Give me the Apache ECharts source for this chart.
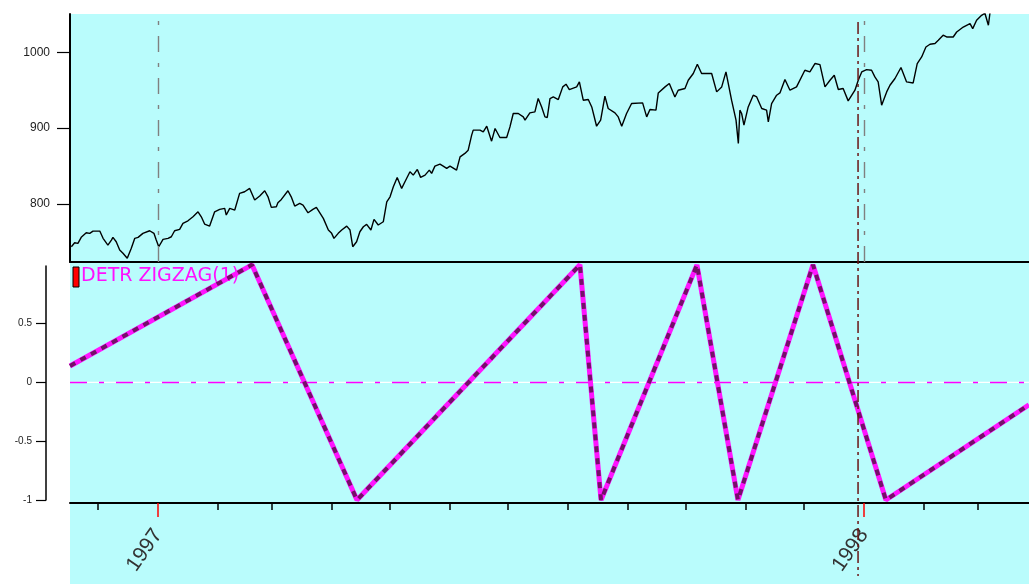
<!DOCTYPE html>
<html><head><meta charset="utf-8">
<script src="https://cdn.jsdelivr.net/npm/echarts@6/dist/echarts.min.js"></script>
<style>html,body{margin:0;padding:0;background:#fff}#c{width:1029px;height:584px}</style>
</head><body><div id="c"></div>
<script>
// x values are days counted from 1997-01-01
const priceDays = [-44.8,-43.1,-41.4,-39.7,-37.1,-35.3,-33.6,-30.1,-28.4,-25.9,-24.1,-23.3,-21.6,-19.8,-18.1,-15.9,-13.8,-12.0,-10.3,-7.8,-4.3,-2.1,-0.9,0.4,2.6,5.2,6.9,8.6,11.2,12.9,15.5,18.1,20.7,22.4,24.1,26.7,29.3,31.9,34.5,35.3,37.1,39.7,42.2,44.8,47.4,50.0,52.6,55.2,56.9,58.6,61.2,62.0,63.8,67.2,68.9,70.7,73.3,75.0,77.6,80.1,81.9,
82.9,85.5,88.1,89.8,91.0,93.2,95.0,97.6,99.3,100.7,102.7,104.4,106.2,107.9,110.1,111.7,113.9,116.5,118.3,120.0,121.7,123.7,126.0,127.7,130.3,132.0,134.1,135.8,138.1,140.3,141.5,143.2,145.8,147.5,149.3,151.0,154.4,156.2,158.7,160.4,162.2,163.0,166.5,168.2,170.0,172.5,174.3,176.8,180.3,182.0,183.7,186.3,188.9,189.8,192.3,194.9,196.6,198.4,200.1,201.3,202.7,
204.4,207.0,209.3,211.0,212.7,216.5,217.9,219.9,222.5,224.3,226.8,228.9,231.1,232.8,236.3,238.0,239.8,242.3,244.9,250.6,252.7,254.4,257.5,258.7,262.2,264.4,267.3,269.0,272.5,274.2,276.8,278.9,281.1,286.3,288.9,291.5,293.7,296.6,298.9,300.1,300.9,301.8,303.0,305.2,307.8,309.6,312.2,314.7,315.6,317.3,319.9,321.6,324.2,326.8,
330.2,334.5,337.1,339.7,342.3,344.9,347.5,349.7,351.8,354.3,356.9,360.4,362.1,363.9,366.4,369.0,370.7,372.4,374.2,376.8,378.5,381.1,384.2,387.1,390.5,392.6,394.9,397.1,399.2,401.8,403.5,406.0,407.8,411.2,413.0,416.4,419.9,421.3,423.3,425.9,427.6,429.4,430.2];
const priceValues = [743.2,748.5,747.7,755.6,761.7,760.9,763.9,763.9,754.3,745.4,752,755.6,749.8,738.8,734.5,727.9,741.1,754.3,755.6,760.9,764.3,760.9,752,743.2,753,754.3,756.4,764.3,766.2,774.1,777.5,782.8,789.4,782.8,773.2,770.5,789.4,792.6,793.9,785.1,793.9,791.7,813.7,815.9,820.3,804.9,810.2,817.2,809.2,795.2,796,801.3,805.8,817.2,809.2,797,800.5,798.3,788.1,792.6,795.2,
796,780.7,765.3,760.9,754.3,760.9,765.3,770.5,765.3,743.2,749.8,763,769.6,772.8,765.3,779.4,771.9,776.2,802.6,809.2,822.5,834.9,820.3,829.1,842.3,837.9,845.4,834.9,837.9,844.5,840.2,849.8,852.4,849.8,846.8,849.8,844.5,862.1,866.6,870.9,890.8,897.4,897.4,895.1,902.6,882.8,899.6,887.7,887.7,901.7,919.4,919.4,914.9,910.6,920.2,921.5,939.2,928.1,914.9,914.1,939.2,
941.3,937.9,954.6,958.1,951.1,954.6,961.2,937,937.9,928.1,902.6,910.6,942.3,926,920.2,914.9,902.6,919.4,932.6,933.4,914.9,924.7,923.8,946.6,954.6,959,941.3,950.2,952.4,963.4,972.3,984.5,972.3,972.3,948,954.6,974.4,937,910.6,879.8,923.8,919.4,904,928.1,943.6,941.3,926,923.8,908.3,932.6,943.6,946.6,964.3,950.2,
954.6,976.6,974.4,985.5,984.1,954.6,963.4,970,951.1,952.4,936.1,950.2,963.4,974.4,977.5,976.6,967.8,961.2,930.4,948,956.8,965.7,980.2,961.2,959.8,985.5,994.2,1007.4,1011,1011.9,1016.2,1022.9,1020.6,1020.6,1027.2,1033.8,1038.3,1031.7,1042.7,1049.3,1052,1036.1,1052];
const zigzagDays = [-45.5, 48.6, 102.9, 218.2, 229.1, 278.7, 299.9, 338.7, 376.4, 450.4];
const zigzagValues = [0.14, 1, -1, 1, -1, 1, -1, 1, -1, -0.19];
const priceTicks = [800, 900, 1000];
const zigzagTicks = [-1, -0.5, 0, 0.5];
const monthTickDays = [-31, 31, 59, 90, 120, 151, 181, 212, 243, 273, 304, 334, 396, 424];
const yearTickDays = [0, 365];
const yearTickLabels = ['1997', '1998'];
const yearLineDays = [0, 365];
const cursorDay = 362;
const xMin = -45.5, xMax = 450.4;
const legendText = 'DETR ZIGZAG(1)';

const pricePairs = priceDays.map((d, i) => [d, priceValues[i]]);
const zigzagPairs = zigzagDays.map((d, i) => [d, zigzagValues[i]]);

const chart = echarts.init(document.getElementById('c'), null, {renderer: 'canvas'});
const baseX = {type: 'value', min: xMin, max: xMax, splitLine: {show: false}};
const option = {
  animation: false,
  backgroundColor: '#ffffff',
  grid: [
    {left: 70, top: 14, right: 0, height: 248},
    {left: 70, top: 266, right: 0, height: 234}
  ],
  xAxis: [
    Object.assign({}, baseX, {gridIndex: 0, position: 'bottom',
      axisLine: {show: true, onZero: false, lineStyle: {color: '#000', width: 2}},
      axisTick: {show: false}, axisLabel: {show: false}}),
    Object.assign({}, baseX, {gridIndex: 1, position: 'bottom', offset: 3,
      axisLine: {show: true, onZero: false, lineStyle: {color: '#000', width: 2}},
      axisTick: {show: true, customValues: monthTickDays, length: 7, lineStyle: {color: '#000', width: 1.5}},
      axisLabel: {show: false}}),
    Object.assign({}, baseX, {gridIndex: 1, position: 'bottom', offset: 3,
      axisLine: {show: false, onZero: false},
      axisTick: {show: true, customValues: yearTickDays, length: 14, lineStyle: {color: '#ff0000', width: 1.5}},
      axisLabel: {show: true, customValues: yearTickDays, rotate: 55, margin: 28,
        fontSize: 21, color: '#333', fontFamily: 'Liberation Sans',
        formatter: v => yearTickLabels[yearTickDays.indexOf(v)] || ''}})
  ],
  yAxis: [
    {type: 'value', gridIndex: 0, min: 723, max: 1051, splitLine: {show: false},
      axisLine: {show: true, onZero: false, lineStyle: {color: '#000', width: 2}},
      axisTick: {show: true, customValues: priceTicks, length: 13, lineStyle: {color: '#000', width: 1.2}},
      axisLabel: {customValues: priceTicks, margin: 20, fontSize: 12, color: '#222', fontFamily: 'Liberation Sans',
        formatter: v => String(v)}},
    {type: 'value', gridIndex: 1, min: -1, max: 0.99, offset: 24, splitLine: {show: false},
      axisLine: {show: true, onZero: false, lineStyle: {color: '#000', width: 1.5}},
      axisTick: {show: true, customValues: zigzagTicks, length: 10, lineStyle: {color: '#000', width: 1.2}},
      axisLabel: {customValues: zigzagTicks, margin: 14, fontSize: 10, color: '#222', fontFamily: 'Liberation Sans',
        formatter: v => String(v)}}
  ],
  series: [
    {type: 'line', xAxisIndex: 0, yAxisIndex: 0, data: pricePairs, symbol: 'none', z: 3,
      lineStyle: {color: '#000', width: 1.4},
      markLine: {silent: true, symbol: ['none', 'none'], label: {show: false},
        lineStyle: {color: '#808080', type: [16, 11, 4, 11], width: 1.4},
        data: yearLineDays.map(d => ({xAxis: d}))}},
    {type: 'line', xAxisIndex: 1, yAxisIndex: 1, data: [[xMin, 0], [xMax, 0]], symbol: 'none', z: 1,
      lineStyle: {color: '#ffffff', width: 1.2}},
    {type: 'line', xAxisIndex: 1, yAxisIndex: 1, data: [[xMin, 0], [xMax, 0]], symbol: 'none', z: 1,
      lineStyle: {color: '#ff00ff', width: 1.5, type: [17, 12, 5, 12]}},
    {type: 'line', xAxisIndex: 1, yAxisIndex: 1, data: zigzagPairs, symbol: 'none', z: 3, clip: false,
      lineStyle: {color: '#ff14ff', width: 5}},
    {type: 'line', xAxisIndex: 1, yAxisIndex: 1, data: zigzagPairs, symbol: 'none', z: 4, clip: false,
      lineStyle: {color: '#741068', width: 4, type: [6, 6]}}
  ],
  graphic: [
    {id: 'bg', type: 'rect', z: -10, silent: true,
      shape: {x: 70, y: 14, width: 959, height: 570}, style: {fill: '#b9fcfc'}},
    {id: 'legBox', type: 'rect', z: 1, silent: true,
      shape: {x: 73, y: 267, width: 6, height: 20}, style: {fill: '#ff0000', stroke: '#000', lineWidth: 1}},
    {id: 'legText', type: 'text', z: 1, silent: true, x: 81, y: 267,
      style: {text: legendText, fill: '#ff10ff', font: '19px "DejaVu Sans"', textVerticalAlign: 'top'}}
  ]
};
chart.setOption(option);
const cx = chart.convertToPixel({xAxisIndex: 0}, cursorDay);
chart.setOption({graphic: [
  {id: 'cursor', type: 'line', z: 10, silent: true,
    shape: {x1: cx, y1: 22, x2: cx, y2: 576},
    style: {stroke: '#6b1414', lineWidth: 1.5, lineDash: [12, 4, 3, 4]}}
]});
</script></body></html>
